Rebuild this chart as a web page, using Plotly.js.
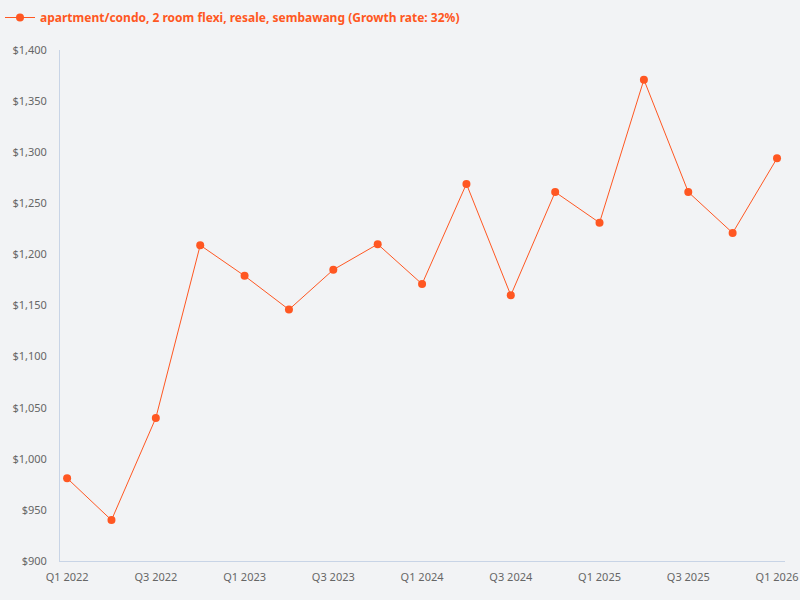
<!DOCTYPE html>
<html>
<head>
<meta charset="utf-8">
<script src="https://cdn.plot.ly/plotly-3.0.1.min.js"></script>
<style>html,body{margin:0;padding:0;background:#f2f3f5;}#chart{width:800px;height:600px;}</style>
</head>
<body>
<div id="chart"></div>
<script>
const quarters = ["Q1 2022","Q2 2022","Q3 2022","Q4 2022","Q1 2023","Q2 2023","Q3 2023","Q4 2023","Q1 2024","Q2 2024","Q3 2024","Q4 2024","Q1 2025","Q2 2025","Q3 2025","Q4 2025","Q1 2026"];
const prices = [981, 940, 1040, 1209, 1179, 1146, 1185, 1210, 1171, 1269, 1160, 1261, 1231, 1371, 1261, 1221, 1294];
const tickLabels = ["Q1 2022","Q3 2022","Q1 2023","Q3 2023","Q1 2024","Q3 2024","Q1 2025","Q3 2025","Q1 2026"];
const seriesName = "apartment/condo, 2 room flexi, resale, sembawang (Growth rate: 32%)";
const color = "#ff5722";

Plotly.newPlot("chart", [{
  x: quarters,
  y: prices,
  type: "scatter",
  mode: "lines+markers",
  name: seriesName,
  line: {color: color, width: 1},
  marker: {color: color, size: 8}
}], {
  width: 800, height: 600,
  paper_bgcolor: "#f2f3f5",
  plot_bgcolor: "#f2f3f5",
  font: {family: "Noto Sans, Open Sans, sans-serif", size: 11, color: "#666"},
  margin: {l: 60, r: 15, t: 50, b: 39},
  showlegend: true,
  legend: {
    orientation: "h",
    xref: "paper", yref: "container",
    x: -0.093, y: 0.995, xanchor: "left", yanchor: "top",
    font: {size: 12, color: color, weight: "bold"},
    bgcolor: "rgba(0,0,0,0)"
  },
  xaxis: {
    type: "category",
    range: [-0.16, 16.18],
    tickvals: tickLabels,
    ticktext: tickLabels,
    showgrid: false,
    zeroline: false,
    showline: true,
    linecolor: "#c8d4e6",
    linewidth: 1,
    ticks: "",
    ticklabelstandoff: 6,
    tickfont: {size: 11, color: "#666"}
  },
  yaxis: {
    range: [900, 1400],
    dtick: 50,
    tickprefix: "$",
    tickformat: ",",
    showgrid: false,
    zeroline: false,
    showline: true,
    linecolor: "#c8d4e6",
    linewidth: 1,
    ticks: "",
    ticklabelstandoff: 10,
    tickfont: {size: 11, color: "#666"}
  }
}, {displayModeBar: false});
</script>
</body>
</html>
